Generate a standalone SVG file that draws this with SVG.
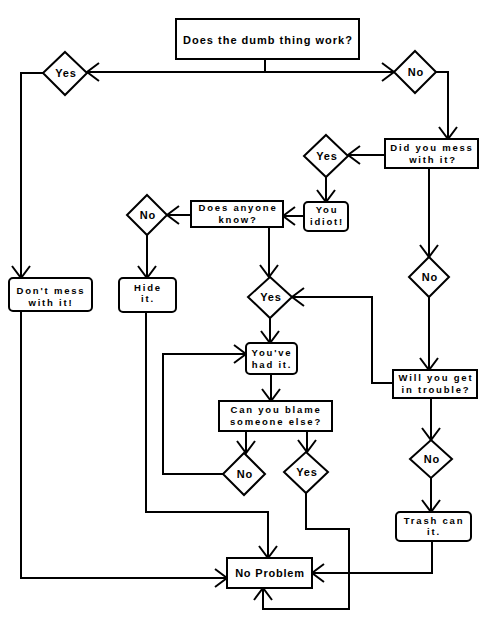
<svg xmlns="http://www.w3.org/2000/svg" width="495" height="640" viewBox="0 0 495 640">
<style>
.box{fill:#fff;stroke:#000;stroke-width:2}
.dia{fill:#fff;stroke:#000;stroke-width:2}
.c{fill:none;stroke:#000;stroke-width:2;marker-end:url(#ah)}
.l{fill:none;stroke:#000;stroke-width:2}
text{font-family:"Liberation Sans",Arial,sans-serif;font-weight:bold;font-size:9.5px;letter-spacing:1.8px;text-anchor:middle;fill:#000}
.big{font-size:11px;letter-spacing:1px}
.d{letter-spacing:0.8px;font-size:11px}
</style>
<defs>
<marker id="ah" markerUnits="userSpaceOnUse" viewBox="-15 -12 18 24" refX="0" refY="0" markerWidth="18" markerHeight="24" orient="auto">
<path d="M-12,-9 L0,0 L-12,9" fill="none" stroke="#000" stroke-width="2"/>
</marker>
</defs>
<rect width="495" height="640" fill="#fff"/>
<g id="connectors">
<path class="l" d="M265,59 V72"/>
<path class="c" d="M265,72 H87"/>
<path class="c" d="M265,72 H394"/>
<path class="c" d="M43,73 H21 V278"/>
<path class="c" d="M436,72 H448 V139"/>
<path class="c" d="M385,155 H348"/>
<path class="c" d="M326,177 V202"/>
<path class="c" d="M304,216 H283"/>
<path class="c" d="M191,215 H167"/>
<path class="c" d="M147,235 V278"/>
<path class="c" d="M269,227 V277"/>
<path class="c" d="M270,318 V343"/>
<path class="c" d="M429,168 V257"/>
<path class="c" d="M429,297 V370"/>
<path class="c" d="M393,383 H372 V297 H292"/>
<path class="c" d="M271,374 V401"/>
<path class="c" d="M246,431 V453"/>
<path class="c" d="M307,431 V452"/>
<path class="c" d="M223,474 H163 V354 H246"/>
<path class="c" d="M306,493 V529 H349 V609 H263 V588"/>
<path class="c" d="M146,312 V512 H268 V558"/>
<path class="c" d="M21,311 V578 H227"/>
<path class="c" d="M431,398 V440"/>
<path class="c" d="M431,478 V512"/>
<path class="c" d="M432,541 V573 H312"/>
</g>
<g id="n-start"><rect class="box" x="176" y="19" width="183" height="40"/><text class="big" x="268" y="44">Does the dumb thing work?</text></g>
<g id="d-yes1"><polygon class="dia" points="65,52 87,73 65,95 43,73"/><text class="d" x="66" y="77">Yes</text></g>
<g id="d-no1"><polygon class="dia" points="415,51 436,72 415,93 394,72"/><text class="d" x="416" y="76">No</text></g>
<g id="n-mess"><rect class="box" x="385" y="139" width="93" height="29"/><text x="432" y="151">Did you mess</text><text x="433" y="163">with it?</text></g>
<g id="d-yes2"><polygon class="dia" points="326,135 348,156 326,177 304,156"/><text class="d" x="327" y="160">Yes</text></g>
<g id="n-idiot"><rect class="box" x="304" y="202" width="44" height="29" rx="4"/><text x="327" y="213">You</text><text x="327" y="225">idiot!</text></g>
<g id="n-anyone"><rect class="box" x="191" y="201" width="92" height="26"/><text x="238" y="211">Does anyone</text><text x="238" y="223">know?</text></g>
<g id="d-no2"><polygon class="dia" points="147,195 167,215 147,235 127,215"/><text class="d" x="148" y="219">No</text></g>
<g id="n-hide"><rect class="box" x="119" y="278" width="57" height="34" rx="4"/><text x="148" y="291">Hide</text><text x="148" y="302">it.</text></g>
<g id="n-dont"><rect class="box" x="9" y="278" width="83" height="33" rx="4"/><text x="51" y="294">Don't mess</text><text x="51" y="306">with it!</text></g>
<g id="d-yes3"><polygon class="dia" points="270,277 292,297 270,318 248,297"/><text class="d" x="271" y="301">Yes</text></g>
<g id="d-no3"><polygon class="dia" points="429,257 449,277 429,297 409,277"/><text class="d" x="430" y="281">No</text></g>
<g id="n-had"><rect class="box" x="246" y="343" width="51" height="31" rx="4"/><text x="272" y="356">You've</text><text x="272" y="368">had it.</text></g>
<g id="n-will"><rect class="box" x="393" y="370" width="84" height="28"/><text x="436" y="381">Will you get</text><text x="436" y="393">in trouble?</text></g>
<g id="n-blame"><rect class="box" x="219" y="401" width="113" height="30"/><text x="276" y="413">Can you blame</text><text x="276" y="425">someone else?</text></g>
<g id="d-no4"><polygon class="dia" points="244,453 265,474 244,495 223,474"/><text class="d" x="245" y="478">No</text></g>
<g id="d-yes4"><polygon class="dia" points="306,452 328,472 306,493 284,472"/><text class="d" x="307" y="476">Yes</text></g>
<g id="d-no5"><polygon class="dia" points="431,440 452,459 431,478 410,459"/><text class="d" x="432" y="463">No</text></g>
<g id="n-trash"><rect class="box" x="396" y="512" width="75" height="29" rx="4"/><text x="434" y="524">Trash can</text><text x="434" y="535">it.</text></g>
<g id="n-noproblem"><rect class="box" x="227" y="558" width="85" height="30"/><text class="d" x="270" y="577">No Problem</text></g>
</svg>
